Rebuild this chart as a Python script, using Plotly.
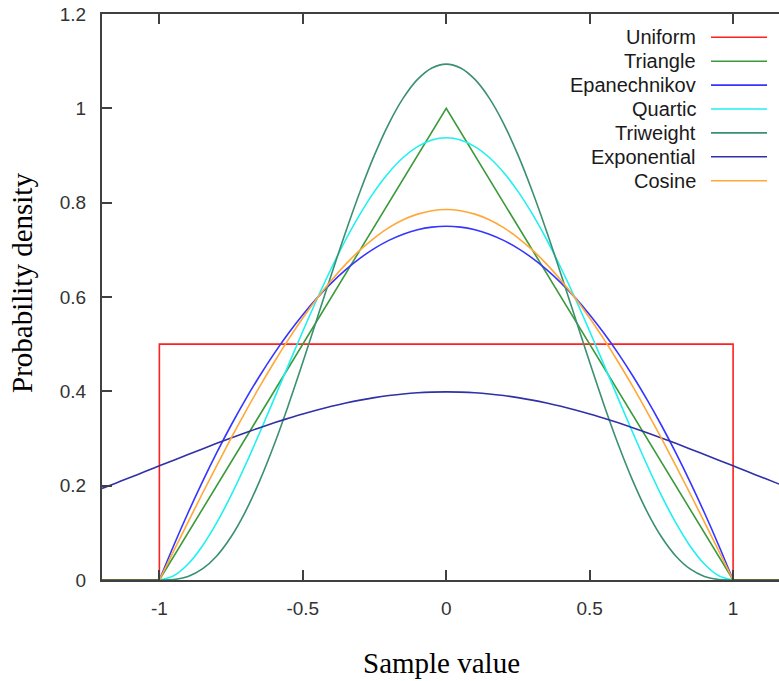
import plotly.graph_objects as go

# ---- data ----
x_half = [0.0, 0.05, 0.1, 0.15, 0.2, 0.25, 0.3, 0.35, 0.4, 0.45, 0.5,
          0.55, 0.6, 0.65, 0.7, 0.75, 0.8, 0.85, 0.9, 0.95, 1.0]
epan_half = [0.75, 0.7481, 0.7425, 0.7331, 0.72, 0.7031, 0.6825, 0.6581, 0.63, 0.5981, 0.5625,
             0.5231, 0.48, 0.4331, 0.3825, 0.3281, 0.27, 0.2081, 0.1425, 0.0731, 0.0]
quartic_half = [0.9375, 0.9328, 0.9188, 0.8958, 0.864, 0.824, 0.7763, 0.7219, 0.6615, 0.5963, 0.5273,
                0.4561, 0.384, 0.3127, 0.2438, 0.1794, 0.1215, 0.0722, 0.0338, 0.0089, 0.0]
triweight_half = [1.0938, 1.0856, 1.0613, 1.0216, 0.9677, 0.9012, 0.8242, 0.739, 0.6483, 0.5548, 0.4614,
                  0.3712, 0.2867, 0.2107, 0.1451, 0.0916, 0.051, 0.0234, 0.0075, 0.001, 0.0]
cosine_half = [0.7854, 0.783, 0.7757, 0.7637, 0.747, 0.7256, 0.6998, 0.6697, 0.6354, 0.5972, 0.5554,
               0.5101, 0.4617, 0.4104, 0.3566, 0.3006, 0.2427, 0.1834, 0.1229, 0.0616, 0.0]
x_expo_half = [0.0, 0.05, 0.1, 0.15, 0.2, 0.25, 0.3, 0.35, 0.4, 0.45, 0.5, 0.55, 0.6,
               0.65, 0.7, 0.75, 0.8, 0.85, 0.9, 0.95, 1.0, 1.05, 1.1, 1.15, 1.2]
expo_half = [0.3989, 0.3984, 0.397, 0.3945, 0.391, 0.3867, 0.3814, 0.3752, 0.3683, 0.3605, 0.3521, 0.3429, 0.3332,
             0.323, 0.3123, 0.3011, 0.2897, 0.278, 0.2661, 0.2541, 0.242, 0.2299, 0.2179, 0.2059, 0.1942]
x_uniform = [-1.2, -1.0, -1.0, 1.0, 1.0, 1.2]
y_uniform = [0.0, 0.0, 0.5, 0.5, 0.0, 0.0]
x_triangle = [-1.2, -1.0, 0.0, 1.0, 1.2]
y_triangle = [0.0, 0.0, 1.0, 0.0, 0.0]
x_flat_left = [-1.2, -1.0]
x_flat_right = [1.0, 1.2]
y_flat = [0.0, 0.0]

names = ["Uniform", "Triangle", "Epanechnikov", "Quartic", "Triweight", "Exponential", "Cosine"]
colors = ["#ff2020", "#3a9a3a", "#3535ff", "#20f0f0", "#3a9070", "#3030a8", "#ffa838"]
x_ticks = [-1, -0.5, 0, 0.5, 1]
x_tick_text = ["-1", "-0.5", "0", "0.5", "1"]
y_ticks = [0, 0.2, 0.4, 0.6, 0.8, 1.0, 1.2]
y_tick_text = ["0", "0.2", "0.4", "0.6", "0.8", "1", "1.2"]


def mirror_x(xs):
    return [-v for v in xs[:0:-1]] + list(xs)


def mirror_y(ys):
    return list(ys[:0:-1]) + list(ys)


fig = go.Figure()
LW = 1.6
fig.add_trace(go.Scatter(x=x_uniform, y=y_uniform, mode="lines",
                         line=dict(color=colors[0], width=LW)))
fig.add_trace(go.Scatter(x=x_triangle, y=y_triangle, mode="lines",
                         line=dict(color=colors[1], width=LW)))
for ys, c in [(epan_half, colors[2]), (quartic_half, colors[3]), (triweight_half, colors[4])]:
    fig.add_trace(go.Scatter(x=mirror_x(x_half), y=mirror_y(ys), mode="lines",
                             line=dict(color=c, width=LW, shape="spline", smoothing=1)))
fig.add_trace(go.Scatter(x=mirror_x(x_expo_half), y=mirror_y(expo_half), mode="lines",
                         line=dict(color=colors[5], width=LW, shape="spline", smoothing=1)))
fig.add_trace(go.Scatter(x=mirror_x(x_half), y=mirror_y(cosine_half), mode="lines",
                         line=dict(color=colors[6], width=LW, shape="spline", smoothing=1)))
for xs in (x_flat_left, x_flat_right):
    fig.add_trace(go.Scatter(x=xs, y=y_flat, mode="lines",
                             line=dict(color="#556633", width=LW)))

L, R, T, B = 102, 0, 14, 101
W, H = 779, 681
pw, ph = W - L - R, H - T - B

axis_color = "#404040"
tick_font = dict(family="Liberation Sans, Arial", size=19, color="#333333")
fig.update_layout(
    width=W, height=H,
    margin=dict(l=L, r=R, t=T, b=B, pad=0),
    plot_bgcolor="white", paper_bgcolor="white",
    showlegend=False,
    xaxis=dict(range=[-1.2, 1.16], tickvals=x_ticks, ticktext=x_tick_text,
               ticks="inside", ticklen=10, tickwidth=1.5, tickcolor=axis_color,
               showline=True, linecolor=axis_color, linewidth=2, mirror="ticks",
               showgrid=False, zeroline=False, tickfont=tick_font, ticklabelstandoff=10),
    yaxis=dict(range=[0, 1.2], tickvals=y_ticks, ticktext=y_tick_text,
               ticks="inside", ticklen=10, tickwidth=1.5, tickcolor=axis_color,
               showline=True, linecolor=axis_color, linewidth=2, mirror=False,
               showgrid=False, zeroline=False, tickfont=tick_font, ticklabelstandoff=10),
)


def px_to_paper_x(px):
    return (px - L) / pw


def px_to_paper_y(py):
    return (H - B - py) / ph


annotations = [
    dict(text="Sample value", x=px_to_paper_x(441), y=px_to_paper_y(663), xref="paper", yref="paper",
         xanchor="center", yanchor="middle", showarrow=False,
         font=dict(family="Liberation Serif, Times New Roman", size=29, color="black")),
    dict(text="Probability density", x=px_to_paper_x(22), y=px_to_paper_y(283), xref="paper", yref="paper",
         xanchor="center", yanchor="middle", showarrow=False, textangle=-90,
         font=dict(family="Liberation Serif, Times New Roman", size=29, color="black")),
]
shapes = []
row0, row_step = 37.3, 23.9
for i, (n, c) in enumerate(zip(names, colors)):
    yy = px_to_paper_y(row0 + i * row_step)
    annotations.append(dict(text=n, x=px_to_paper_x(698), y=yy, xref="paper", yref="paper",
                            xanchor="right", yanchor="middle", showarrow=False,
                            font=dict(family="Liberation Sans, Arial", size=20, color="#1a1a1a")))
    shapes.append(dict(type="line", xref="paper", yref="paper",
                       x0=px_to_paper_x(711), x1=px_to_paper_x(767), y0=yy, y1=yy,
                       line=dict(color=c, width=LW)))
fig.update_layout(annotations=annotations, shapes=shapes)

fig.write_html("out.html")
